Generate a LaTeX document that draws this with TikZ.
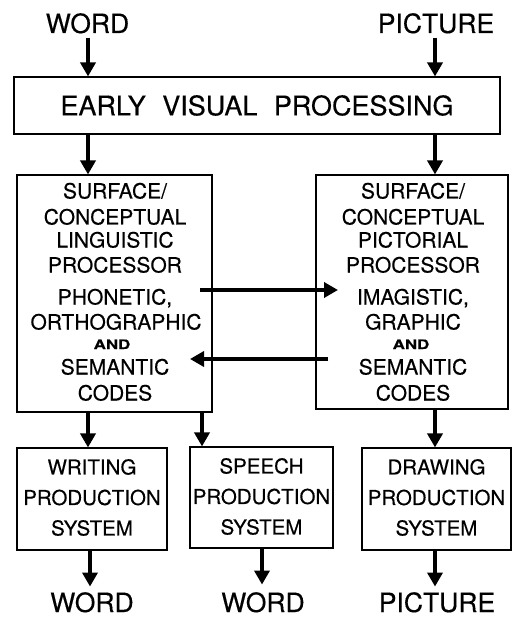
\documentclass[tikz,border=0pt]{standalone}
\usepackage{graphicx}
\usepackage{fontspec}
\setmainfont{TeX Gyre Heros}[FakeBold=0.35]
\usetikzlibrary{arrows.meta}
\newcommand{\andword}{\scalebox{1.3}[1]{AND}}
\begin{document}
\begin{tikzpicture}[x=1pt,y=-1pt,
  box/.style={draw,line width=1.1pt,inner sep=0pt},
  lbl/.style={inner sep=0pt,anchor=base,font=\fontsize{26.5}{30}\selectfont},
  bl/.style={inner sep=0pt,anchor=base,font=\fontsize{21}{25}\selectfont},
  andl/.style={inner sep=0pt,anchor=base,font=\fontsize{13}{14}\selectfont\bfseries},
  sl/.style={inner sep=0pt,align=center,font=\fontsize{20.5}{30.5}\selectfont},
  arr/.style={line width=4.5pt,-{Triangle[width=15pt,length=14pt]}}]
\useasboundingbox (0,0) rectangle (512,617);
% top labels
\node[lbl] (wordtop) at (87.5,33) {WORD};
\node[lbl] (pictop) at (436,33) {PICTURE};
% early visual processing
\node[box,minimum width=486pt,minimum height=57pt,font=\fontsize{27}{30}\selectfont] (evp) at (257,105.5)
  {EARLY\hspace{9pt} VISUAL\hspace{9pt} PROCESSING};
% big boxes
\node[box,minimum width=195pt,minimum height=237pt] (lbox) at (114.5,293.5) {};
\node[box,minimum width=192pt,minimum height=234pt] (rbox) at (412,292) {};
% left box text
\node[bl] (l1) at (115,198.5) {SURFACE/};
\node[bl] (l2) at (115,224.5) {CONCEPTUAL};
\node[bl] (l3) at (115,247.5) {LINGUISTIC};
\node[bl] (l4) at (115,272.5) {PROCESSOR};
\node[bl] (l5) at (115,304.5) {PHONETIC,};
\node[bl] (l6) at (116,329.5) {ORTHOGRAPHIC};
\node[andl] (l7) at (112,349) {\andword};
\node[bl] (l8) at (115,374.5) {SEMANTIC};
\node[bl] (l9) at (115,400.5) {CODES};
% right box text
\node[bl] (r1) at (413,198.5) {SURFACE/};
\node[bl] (r2) at (413,224.5) {CONCEPTUAL};
\node[bl] (r3) at (413,247.5) {PICTORIAL};
\node[bl] (r4) at (413,272.5) {PROCESSOR};
\node[bl] (r5) at (413,304.5) {IMAGISTIC,};
\node[bl] (r6) at (413,329.5) {GRAPHIC};
\node[andl] (r7) at (411,349) {\andword};
\node[bl] (r8) at (413,374.5) {SEMANTIC};
\node[bl] (r9) at (413,400.5) {CODES};
% production boxes
\node[box,minimum width=150pt,minimum height=102pt] (wbox) at (92,499) {};
\node[sl] (wtxt) at (92,497.5) {WRITING\\PRODUCTION\\SYSTEM};
\node[box,minimum width=143pt,minimum height=101pt] (sbox) at (261.5,497.5) {};
\node[sl] (stxt) at (261.5,496.5) {SPEECH\\PRODUCTION\\SYSTEM};
\node[box,minimum width=149pt,minimum height=102pt] (dbox) at (436.5,499) {};
\node[sl] (dtxt) at (436.5,497.5) {DRAWING\\PRODUCTION\\SYSTEM};
% bottom labels
\node[lbl] (wordb1) at (92,612) {WORD};
\node[lbl] (wordb2) at (263,612) {WORD};
\node[lbl] (picb) at (437,612) {PICTURE};
% coordinates
\coordinate (xl) at (88,0);
\coordinate (xr) at (435,0);
\coordinate (xs) at (202,0);
\coordinate (xw) at (90,0);
\coordinate (xsp) at (262,0);
\coordinate (a1s) at (200,290);
\coordinate (a1e) at (338,290);
\coordinate (a2s) at (328,359);
\coordinate (a2e) at (190,359);
% arrows
\draw[arr] (xl |- wordtop.south) ++(0,4) -- (xl |- evp.north);
\draw[arr] (xr |- pictop.south) ++(0,4) -- (xr |- evp.north);
\draw[arr] (xl |- evp.south) -- (xl |- lbox.north);
\draw[arr] (xr |- evp.south) -- (xr |- rbox.north);
\draw[arr] (a1s) -- (a1e);
\draw[arr] (a2s) -- (a2e);
\draw[arr] (xl |- lbox.south) -- (xl |- wbox.north);
\draw[arr] (xs |- lbox.south) -- (xs |- sbox.north);
\draw[arr] (xr |- rbox.south) -- (xr |- dbox.north);
\draw[arr] (xw |- wbox.south) -- ++(0,36);
\draw[arr] (xsp |- sbox.south) -- ++(0,36);
\draw[arr] (xr |- dbox.south) -- ++(0,36);
\end{tikzpicture}
\end{document}
